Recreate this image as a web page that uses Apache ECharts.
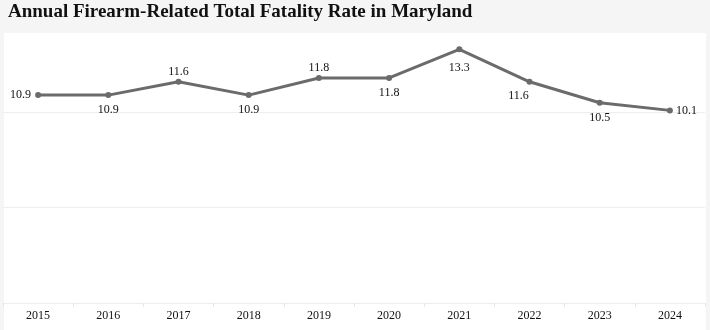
<!DOCTYPE html>
<html>
<head>
<meta charset="utf-8">
<script src="https://cdn.jsdelivr.net/npm/echarts@6/dist/echarts.min.js"></script>
<style>
  html, body { margin: 0; padding: 0; background: #f5f5f5; }
  #chart { width: 710px; height: 330px; }
</style>
</head>
<body>
<div id="chart"></div>
<script>
// Annual firearm-related fatality rate (per 100k) in Maryland
const years = ['2015', '2016', '2017', '2018', '2019', '2020', '2021', '2022', '2023', '2024'];
const rates = [10.9, 10.9, 11.6, 10.9, 11.8, 11.8, 13.3, 11.6, 10.5, 10.1];
const yTicks = { min: 0, max: 14, interval: 5 };

// where each value label sits relative to its point
const labelSides = ['left', 'bottom', 'top', 'bottom', 'top', 'bottom', 'bottomFar', 'bottomLeft', 'bottom', 'right'];
const labelStyles = {
  left: { position: 'left', distance: 4 },
  right: { position: 'right', distance: 3 },
  top: { position: 'top', distance: 1 },
  bottom: { position: 'bottom', distance: 6 },
  bottomFar: { position: 'bottom', distance: 9 },
  bottomLeft: { position: 'bottom', distance: 5, offset: [-11, 0] }
};

const serif = '"Liberation Serif", "DejaVu Serif", serif';
const chart = echarts.init(document.getElementById('chart'), null, { renderer: 'canvas' });

chart.setOption({
  backgroundColor: '#f5f5f5',
  animation: false,
  title: {
    text: 'Annual Firearm-Related Total Fatality Rate in Maryland',
    left: 8,
    top: 3,
    padding: 0,
    textStyle: { fontFamily: serif, fontWeight: 'bold', fontSize: 19, color: '#111' }
  },
  graphic: [{
    type: 'rect',
    z: -10,
    silent: true,
    shape: { x: 4, y: 33, width: 702, height: 300 },
    style: { fill: '#ffffff' }
  }],
  grid: { left: 3, right: 5, top: 36, bottom: 27, containLabel: false },
  xAxis: {
    type: 'category',
    data: years,
    boundaryGap: true,
    axisLine: { lineStyle: { color: '#eeeeee' } },
    axisTick: { show: true, length: 4, lineStyle: { color: '#e6e6e6' } },
    axisLabel: { fontFamily: serif, fontSize: 12, color: '#111', margin: 7 }
  },
  yAxis: {
    type: 'value',
    min: yTicks.min,
    max: yTicks.max,
    interval: yTicks.interval,
    axisLabel: { show: false },
    axisLine: { show: false },
    axisTick: { show: false },
    splitLine: { showMaxLine: false, lineStyle: { color: '#eeeeee' } }
  },
  series: [{
    type: 'line',
    data: rates.map((v, i) => ({
      value: v,
      label: Object.assign({}, labelStyles[labelSides[i]])
    })),
    symbol: 'circle',
    symbolSize: 6,
    lineStyle: { color: '#6b6b6b', width: 3 },
    itemStyle: { color: '#6b6b6b' },
    label: {
      show: true,
      fontFamily: serif,
      fontSize: 12,
      color: '#111',
      formatter: p => p.value.toFixed(1)
    }
  }]
});
</script>
</body>
</html>
